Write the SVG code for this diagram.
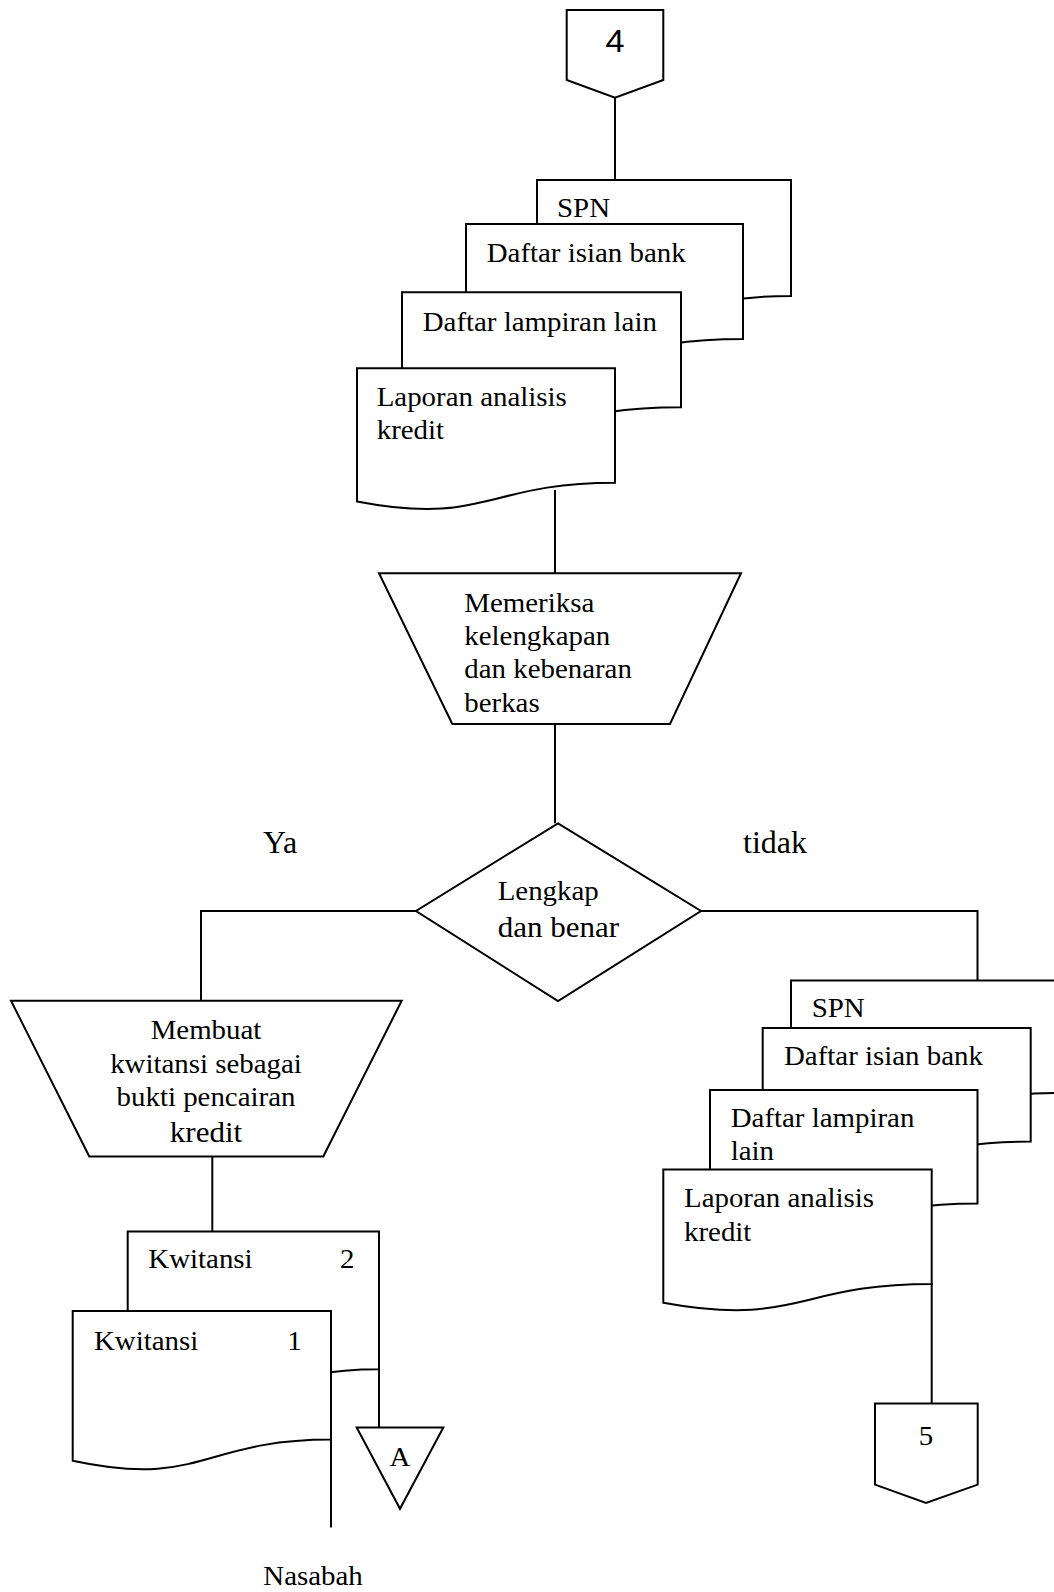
<svg xmlns="http://www.w3.org/2000/svg" width="1054" height="1592" viewBox="0 0 1054 1592">
  <style>
    .shape { fill: #fff; stroke: #000; stroke-width: 2; stroke-linejoin: miter; }
    .link { fill: none; stroke: #000; stroke-width: 2; }
    .t { font-family: "Liberation Serif", "Times New Roman", serif; font-size: 27px; fill: #000; }
    .big { font-size: 29px; }
    .lbl { font-size: 32px; }
    .mid { text-anchor: middle; }
    .num { font-family: "Liberation Sans", Arial, sans-serif; font-size: 32px; fill: #000; text-anchor: middle; }
  </style>
  <rect width="1054" height="1592" fill="#fff"/>

  <!-- connectors (drawn first so shapes cover their ends) -->
  <g id="connectors">
    <line class="link" x1="615" y1="97.7" x2="615" y2="180"/>
    <line class="link" x1="555" y1="490" x2="555" y2="573.3"/>
    <line class="link" x1="555" y1="724" x2="555" y2="823.3"/>
    <polyline class="link" points="416,911 201,911 201,1000.7"/>
    <polyline class="link" points="701,911 977.5,911 977.5,980.5"/>
    <line class="link" x1="212.3" y1="1150" x2="212.3" y2="1231.6"/>
    <line class="link" x1="379" y1="1369" x2="379" y2="1427.4"/>
    <line class="link" x1="331" y1="1439" x2="331" y2="1527.4"/>
    <line class="link" x1="931.7" y1="1283" x2="931.7" y2="1403.6"/>
  </g>

  <!-- off-page connector 4 -->
  <g id="conn4">
    <polygon class="shape" points="566.7,10 663.3,10 663.3,80 615,97.7 566.7,80"/>
    <text class="num" transform="translate(615 51.7) scale(1.07 1)">4</text>
  </g>

  <!-- upper document stack -->
  <g id="doc-spn-1">
    <path class="shape" d="M537,180 H791 V296 C664,296 664,340.1 537,315.1 Z"/>
    <text class="t" transform="translate(557 217) scale(1.07 1)">SPN</text>
  </g>
  <g id="doc-isian-1">
    <path class="shape" d="M466,224 H743 V339 C604.5,339 604.5,382.8 466,357.9 Z"/>
    <text class="t" transform="translate(486.7 261.7) scale(1.07 1)">Daftar isian bank</text>
  </g>
  <g id="doc-lampiran-1">
    <path class="shape" d="M402,292.3 H681 V407.3 C541.5,407.3 541.5,451.1 402,426.2 Z"/>
    <text class="t" transform="translate(422.7 330.7) scale(1.07 1)">Daftar lampiran lain</text>
  </g>
  <g id="doc-laporan-1">
    <path class="shape" d="M357,368.3 H615 V482.7 C486,482.7 486,526.2 357,501.5 Z"/>
    <text class="t" transform="translate(376.7 406) scale(1.07 1)"><tspan x="0" y="0">Laporan analisis</tspan><tspan x="0" dy="33.3">kredit</tspan></text>
  </g>

  <!-- manual operation: checking -->
  <g id="op-memeriksa">
    <polygon class="shape" points="379,573.3 741,573.3 670,724 452.3,724"/>
    <text class="t" transform="translate(464.3 611.7) scale(1.07 1)"><tspan x="0" y="0">Memeriksa</tspan><tspan x="0" dy="33.3">kelengkapan</tspan><tspan x="0" dy="33.3">dan kebenaran</tspan><tspan x="0" dy="33.3">berkas</tspan></text>
  </g>

  <!-- decision -->
  <g id="dec-lengkap">
    <polygon class="shape" points="558,823.3 701,911 558,1001 416,911"/>
    <text class="t" transform="translate(497.7 900) scale(1.07 1)">Lengkap</text>
    <text class="t big" transform="translate(497.7 936.7) scale(1.07 1)">dan benar</text>
  </g>
  <g id="label-ya">
    <text class="t lbl" x="263" y="853">Ya</text>
  </g>
  <g id="label-tidak">
    <text class="t lbl" x="743" y="853">tidak</text>
  </g>

  <!-- manual operation: receipt -->
  <g id="op-membuat">
    <polygon class="shape" points="11,1000.7 401.7,1000.7 323.3,1156.5 89.3,1156.5"/>
    <text class="t mid" transform="translate(206 1039) scale(1.07 1)"><tspan x="0" y="0">Membuat</tspan><tspan x="0" dy="33.7">kwitansi sebagai</tspan><tspan x="0" dy="33.7">bukti pencairan</tspan></text>
    <text class="t big mid" transform="translate(206 1141.9) scale(1.07 1)">kredit</text>
  </g>

  <!-- receipts -->
  <g id="doc-kwitansi-2">
    <path class="shape" d="M127.7,1231.6 H379 V1369.3 C253.3,1369.3 253.3,1421.8 127.7,1392 Z"/>
    <text class="t" transform="translate(148.3 1268.4) scale(1.07 1)">Kwitansi</text>
    <text class="t" transform="translate(340 1268.4) scale(1.07 1)">2</text>
  </g>
  <g id="doc-kwitansi-1">
    <path class="shape" d="M72.7,1311.1 H331 V1439.6 C201.9,1439.6 201.9,1488.5 72.7,1460.7 Z"/>
    <text class="t" transform="translate(94 1349.5) scale(1.07 1)">Kwitansi</text>
    <text class="t" transform="translate(287.3 1349.5) scale(1.07 1)">1</text>
  </g>

  <!-- file A -->
  <g id="file-a">
    <polygon class="shape" points="356.7,1427.4 443.3,1427.4 400,1508.8"/>
    <text class="t mid" transform="translate(400 1466) scale(1.07 1)">A</text>
  </g>

  <g id="label-nasabah">
    <text class="t" transform="translate(263.3 1585) scale(1.07 1)">Nasabah</text>
  </g>

  <!-- lower document stack -->
  <g id="doc-spn-2">
    <path class="shape" d="M791,980.5 H1062 V1093 C926.5,1093 926.5,1135.9 791,1111.5 Z"/>
    <text class="t" transform="translate(811.7 1017.1) scale(1.07 1)">SPN</text>
  </g>
  <g id="doc-isian-2">
    <path class="shape" d="M762.7,1028 H1030.7 V1141.5 C896.7,1141.5 896.7,1184.7 762.7,1160.2 Z"/>
    <text class="t" transform="translate(784 1065) scale(1.07 1)">Daftar isian bank</text>
  </g>
  <g id="doc-lampiran-2">
    <path class="shape" d="M710,1090 H977.5 V1203.5 C843.7,1203.5 843.7,1246.7 710,1222.2 Z"/>
    <text class="t" transform="translate(730.7 1126.8) scale(1.07 1)"><tspan x="0" y="0">Daftar lampiran</tspan><tspan x="0" dy="33.2">lain</tspan></text>
  </g>
  <g id="doc-laporan-2">
    <path class="shape" d="M663.3,1169.6 H931.7 V1283.9 C797.5,1283.9 797.5,1327.4 663.3,1302.7 Z"/>
    <text class="t" transform="translate(684 1207) scale(1.07 1)"><tspan x="0" y="0">Laporan analisis</tspan><tspan x="0" dy="34">kredit</tspan></text>
  </g>

  <!-- off-page connector 5 -->
  <g id="conn5">
    <polygon class="shape" points="875,1403.6 977.7,1403.6 977.7,1484.6 926,1502.9 875,1484.6"/>
    <text class="t mid" transform="translate(926 1444.6) scale(1.07 1)">5</text>
  </g>
</svg>
